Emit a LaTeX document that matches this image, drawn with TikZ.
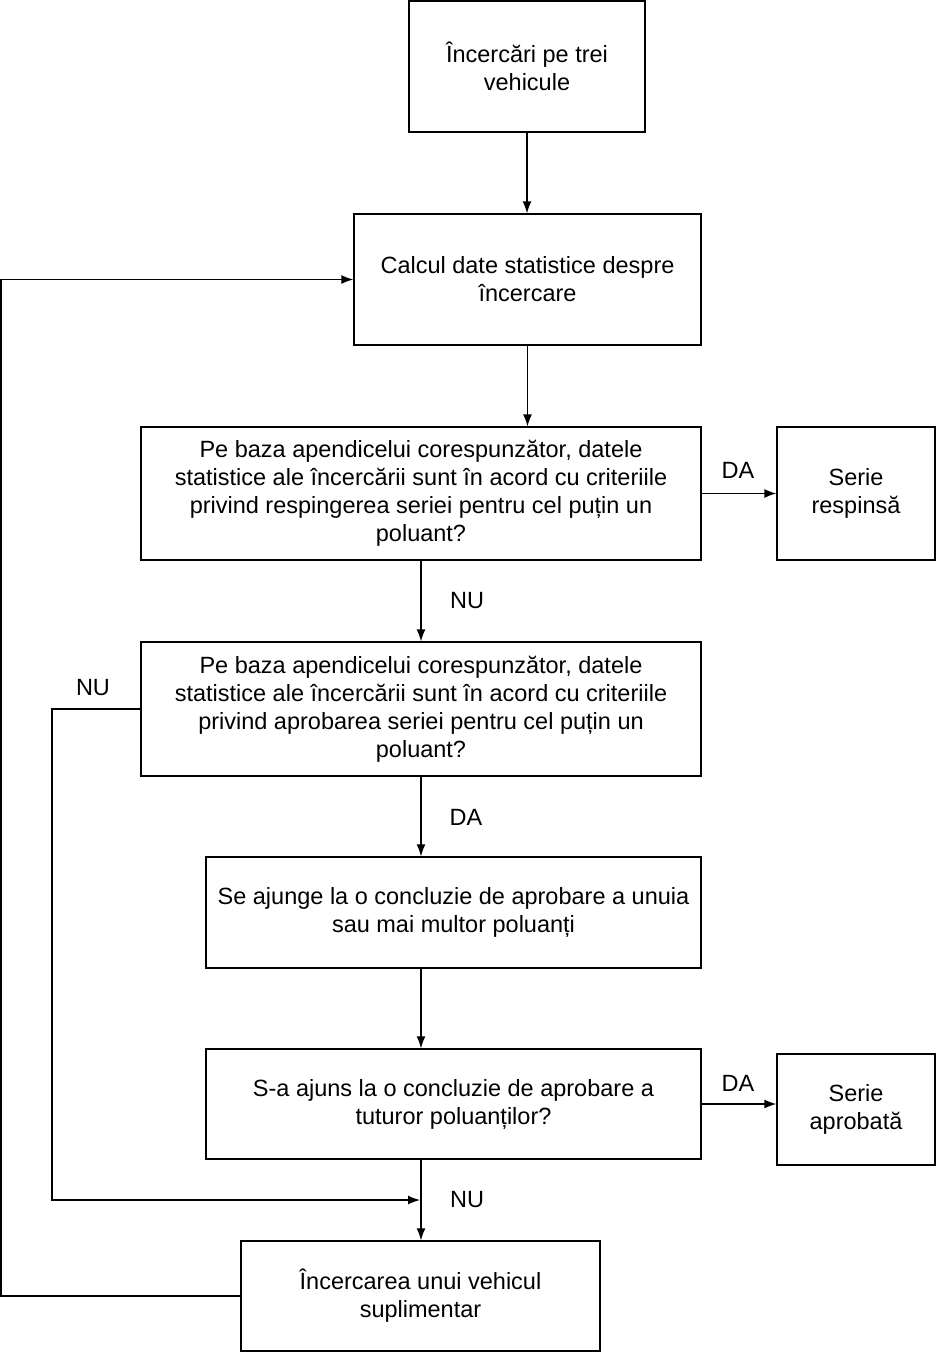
\documentclass[tikz,border=0pt]{standalone}
\usepackage{fontspec}
\setmainfont{Liberation Sans}
\usetikzlibrary{arrows.meta}
\begin{document}
\begin{tikzpicture}[x=1pt,y=-1pt,
  box/.style={draw,line width=1.3pt,align=center,inner sep=0pt,font=\fontsize{23.5}{28}\selectfont},
  lbl/.style={font=\fontsize{23.5}{28}\selectfont,inner sep=0pt},
  arr/.style={line width=1.3pt,-{Latex[length=12pt,width=9pt]}},
  ln/.style={line width=1.3pt}]
\useasboundingbox (0,0) rectangle (936,1353);
\node[box,minimum width=236pt,minimum height=131pt] (b1) at (527,66.5) {Încercări pe trei\\vehicule};
\node[box,minimum width=347pt,minimum height=131pt] (b2) at (527.5,279.5) {Calcul date statistice despre\\încercare};
\node[box,minimum width=560pt,minimum height=133pt] (b3) at (421,493.5) {Pe baza apendicelui corespunzător, datele\\statistice ale încercării sunt în acord cu criteriile\\privind respingerea seriei pentru cel puțin un\\poluant?};
\node[box,minimum width=158pt,minimum height=133pt] (b4) at (856,493.5) {Serie\\respinsă};
\node[box,minimum width=560pt,minimum height=134pt] (b5) at (421,709) {Pe baza apendicelui corespunzător, datele\\statistice ale încercării sunt în acord cu criteriile\\privind aprobarea seriei pentru cel puțin un\\poluant?};
\node[box,minimum width=495pt,minimum height=111pt] (b6) at (453.5,912.5) {Se ajunge la o concluzie de aprobare a unuia\\sau mai multor poluanți};
\node[box,minimum width=495pt,minimum height=110pt] (b7) at (453.5,1104) {S-a ajuns la o concluzie de aprobare a\\tuturor poluanților?};
\node[box,minimum width=158pt,minimum height=111pt] (b8) at (856,1109.5) {Serie\\aprobată};
\node[box,minimum width=359pt,minimum height=110pt] (b9) at (420.5,1296) {Încercarea unui vehicul\\suplimentar};

\draw[arr] (b1.south) -- (b1.south |- b2.north);
\draw[arr] (b2.south) -- (b2.south |- b3.north);
\draw[arr] (b3.east) -- (b4.west);
\draw[arr] (b3.south) -- (b5.north);
\draw[arr] (b5.south) -- (b5.south |- b6.north);
\draw[arr] (b5.south |- b6.south) -- (b5.south |- b7.north);
\draw[arr] (b7.east) -- (b8.west |- b7.east);
\draw[arr] (b5.south |- b7.south) -- (b5.south |- b9.north);

\coordinate (c1) at (52,1200);
\coordinate (j) at (420,1200);
\draw[arr] (b5.west) -| (c1) -- (j);
\coordinate (c2) at (1,1296);
\draw[arr] (b9.west) -- (c2) |- (b2.west);

\node[lbl] (l1) at (738,470) {DA};
\node[lbl] (l2) at (467,601) {NU};
\node[lbl] (l3) at (466,817) {DA};
\node[lbl] (l4) at (738,1083) {DA};
\node[lbl] (l5) at (467,1200) {NU};
\node[lbl] (l6) at (93,688) {NU};
\end{tikzpicture}
\end{document}
